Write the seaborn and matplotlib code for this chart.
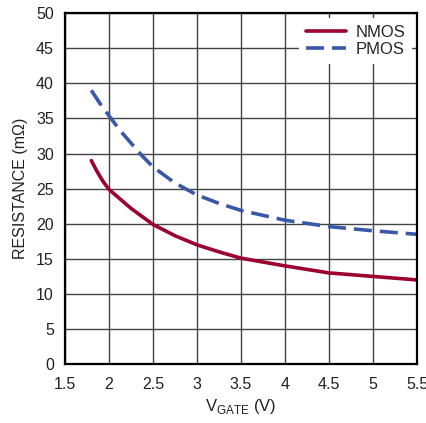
import matplotlib
matplotlib.use("Agg")
import matplotlib.pyplot as plt
import seaborn as sns
import pandas as pd

# data
vgate_n = [1.8, 1.85, 1.9, 1.935, 2.0, 2.25, 2.5, 2.75, 3.0, 3.25, 3.5, 4.0, 4.5, 5.0, 5.5]
nmos = [29.0, 27.8, 26.7, 26.0, 24.9, 22.2, 19.9, 18.3, 17.0, 16.0, 15.1, 14.0, 13.0, 12.5, 12.0]
vgate_p = [1.8, 1.9, 2.0, 2.125, 2.25, 2.375, 2.5, 2.75, 3.0, 3.25, 3.5, 4.0, 4.5, 5.0, 5.5]
pmos = [39.0, 37.1, 35.4, 33.3, 31.5, 29.7, 28.1, 25.8, 24.1, 22.9, 21.9, 20.5, 19.6, 19.0, 18.5]

x_ticks = [1.5, 2, 2.5, 3, 3.5, 4, 4.5, 5, 5.5]
y_ticks = list(range(0, 55, 5))

long = pd.concat([
    pd.DataFrame({"vgate": vgate_n, "res": nmos, "device": "NMOS"}),
    pd.DataFrame({"vgate": vgate_p, "res": pmos, "device": "PMOS"}),
])

sns.set_style("white")
plt.rcParams["font.family"] = ["Liberation Sans", "DejaVu Sans"]

fig = plt.figure(figsize=(4.27, 4.23), dpi=100)
ax = fig.add_axes([0.152, 0.139, 0.825, 0.830])

ax.set_xlim(1.5, 5.5)
ax.set_ylim(0, 50)
ax.set_xticks(x_ticks)
ax.set_xticklabels([f"{t:g}" for t in x_ticks])
ax.set_yticks(y_ticks)
ax.grid(True, color="#444444", linewidth=1.0)
ax.set_axisbelow(True)

sns.lineplot(data=long, x="vgate", y="res", hue="device", style="device",
             palette={"NMOS": "#9b0030", "PMOS": "#3a58a8"},
             dashes={"NMOS": "", "PMOS": (5, 2.2)},
             linewidth=2.6, ax=ax, sort=False)

for s in ax.spines.values():
    s.set_color("black")
    s.set_linewidth(1.6)
ax.tick_params(axis="both", length=0, labelsize=11.5, colors="#222222")
ax.tick_params(axis="x", pad=9)
ax.tick_params(axis="y", pad=8)

ax.set_xlabel("V$_{\\mathregular{GATE}}$ (V)", fontsize=12, color="#222222", labelpad=4)
ax.set_ylabel("RESISTANCE (mΩ)", fontsize=11.5, color="#222222", labelpad=6)

leg = ax.legend(title=None, loc="upper right", fontsize=12, frameon=True,
                framealpha=1, edgecolor="white", fancybox=False,
                handlelength=2.4, handletextpad=0.6, borderaxespad=0.3,
                labelspacing=0.15)
leg.get_frame().set_linewidth(0)

fig.savefig("out.png", dpi=100)
